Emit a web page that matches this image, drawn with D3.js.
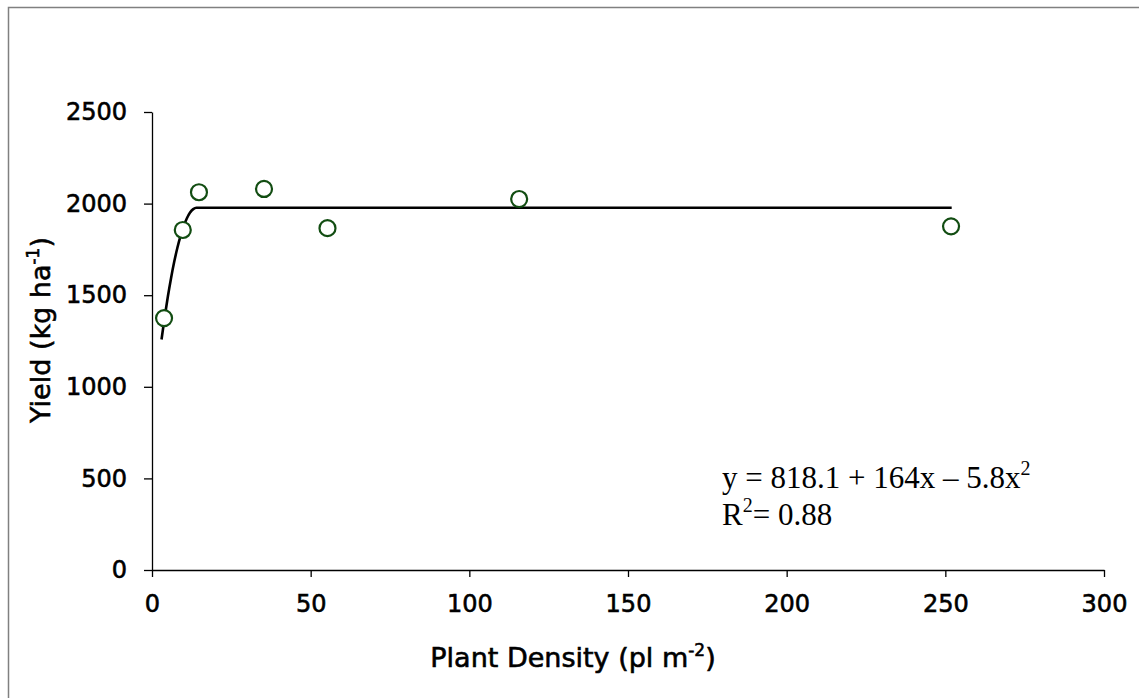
<!DOCTYPE html>
<html>
<head>
<meta charset="utf-8">
<script src="https://cdn.jsdelivr.net/npm/d3@7"></script>
<style>
  body { margin: 0; background: #fff; }
  .axis text { font-family: "DejaVu Sans", sans-serif; font-size: 24px; fill: #000; stroke: #000; stroke-width: 0.6px; }
  .axis path, .axis line { stroke: #000; stroke-width: 1.3; }
  .title { font-family: "DejaVu Sans", sans-serif; font-size: 27px; fill: #000; stroke: #000; stroke-width: 0.6px; }
  .eq { font-family: "Liberation Serif", serif; font-size: 31px; fill: #000; }
</style>
</head>
<body>
<div id="chart"></div>
<script>
// observed points
var density = [3.8, 9.7, 14.8, 35.3, 55.3, 115.7, 251.8];
var yieldVals = [1375, 1856, 2062, 2080, 1866, 2025, 1876];

// fitted curve
var fitX = [3, 4, 5, 6, 7, 8, 9, 10, 11, 12, 13, 14, 14.14, 252];
var fitY = [1258, 1381, 1493, 1593, 1682, 1759, 1824, 1878, 1920, 1951, 1970, 1977, 1977, 1977];

var xTicks = [0, 50, 100, 150, 200, 250, 300];
var yTicks = [0, 500, 1000, 1500, 2000, 2500];

var W = 1139, H = 698;
var margin = {top: 112, right: 35, bottom: 128, left: 152},
    width = W - margin.left - margin.right,
    height = H - margin.top - margin.bottom;

var svg = d3.select("#chart").append("svg")
    .attr("width", W)
    .attr("height", H);

// outer frame (only top and left visible)
svg.append("rect")
    .attr("x", 8.5)
    .attr("y", 7.5)
    .attr("width", W + 10)
    .attr("height", H + 10)
    .style("fill", "none")
    .style("stroke", "#808080")
    .style("stroke-width", 1.5);

var g = svg.append("g")
    .attr("transform", "translate(" + margin.left + "," + margin.top + ")");

var x = d3.scaleLinear().domain([0, 300]).range([0, width]);
var y = d3.scaleLinear().domain([0, 2500]).range([height, 0]);

g.append("g")
    .attr("class", "axis")
    .attr("transform", "translate(0," + height + ")")
    .call(d3.axisBottom(x).tickValues(xTicks).tickFormat(d3.format("d"))
        .tickSize(7).tickSizeOuter(0).tickPadding(18));

g.append("g")
    .attr("class", "axis")
    .call(d3.axisLeft(y).tickValues(yTicks).tickFormat(d3.format("d"))
        .tickSize(8).tickSizeOuter(0).tickPadding(17));

// fit line
var line = d3.line()
    .x(function(d, i) { return x(fitX[i]); })
    .y(function(d, i) { return y(fitY[i]); })
    .curve(d3.curveMonotoneX);

g.append("path")
    .datum(fitX)
    .attr("d", line)
    .style("fill", "none")
    .style("stroke", "#000")
    .style("stroke-width", 2.6);

// points
g.selectAll("circle")
    .data(density)
    .enter()
    .append("circle")
    .attr("cx", function(d) { return x(d); })
    .attr("cy", function(d, i) { return y(yieldVals[i]); })
    .attr("r", 8)
    .style("fill", "#fff")
    .style("stroke", "#124d12")
    .style("stroke-width", 2.2);

// axis titles
var xt = svg.append("text")
    .attr("class", "title")
    .attr("x", 573)
    .attr("y", 667)
    .attr("text-anchor", "middle");
xt.append("tspan").text("Plant Density (pl m");
xt.append("tspan").attr("dy", -11).style("font-size", "17px").text("-2");
xt.append("tspan").attr("dy", 11).text(")");

var yt = svg.append("text")
    .attr("class", "title")
    .attr("transform", "translate(50,330) rotate(-90)")
    .attr("text-anchor", "middle");
yt.append("tspan").text("Yield (kg ha");
yt.append("tspan").attr("dy", -11).style("font-size", "17px").text("-1");
yt.append("tspan").attr("dy", 11).text(")");

// equation
var eq1 = svg.append("text")
    .attr("class", "eq")
    .attr("x", 722)
    .attr("y", 488);
eq1.append("tspan").text("y = 818.1 + 164x \u2013 5.8x");
eq1.append("tspan").attr("dy", -13).style("font-size", "20px").text("2");

var eq2 = svg.append("text")
    .attr("class", "eq")
    .attr("x", 722)
    .attr("y", 525);
eq2.append("tspan").text("R");
eq2.append("tspan").attr("dy", -13).style("font-size", "20px").text("2");
eq2.append("tspan").attr("dy", 13).text("= 0.88");
</script>
</body>
</html>
